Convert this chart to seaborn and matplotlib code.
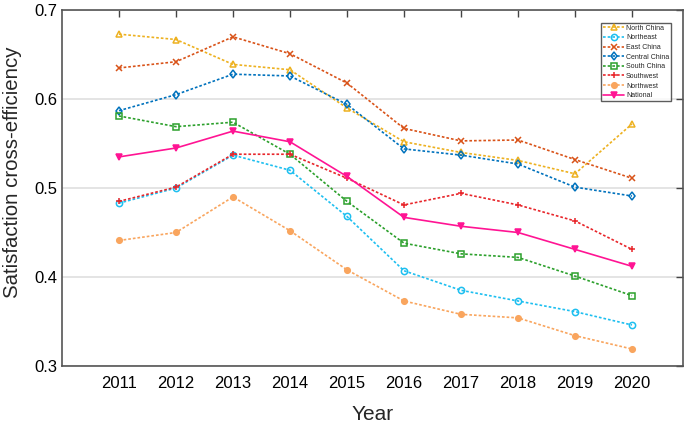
import numpy as np
import pandas as pd
import matplotlib
matplotlib.use('Agg')
import matplotlib.pyplot as plt
import seaborn as sns

years = [2011, 2012, 2013, 2014, 2015, 2016, 2017, 2018, 2019, 2020]

north_china = [0.673, 0.667, 0.639, 0.633, 0.590, 0.552, 0.540, 0.531, 0.516, 0.572]
northeast = [0.483, 0.500, 0.537, 0.520, 0.468, 0.407, 0.385, 0.373, 0.361, 0.346]
east_china = [0.635, 0.642, 0.670, 0.651, 0.618, 0.567, 0.553, 0.554, 0.532, 0.511]
central_china = [0.587, 0.605, 0.628, 0.626, 0.594, 0.544, 0.537, 0.527, 0.501, 0.491]
south_china = [0.581, 0.569, 0.574, 0.538, 0.485, 0.438, 0.426, 0.422, 0.401, 0.379]
southwest = [0.485, 0.501, 0.538, 0.538, 0.511, 0.481, 0.494, 0.481, 0.463, 0.431]
northwest = [0.441, 0.450, 0.490, 0.452, 0.408, 0.373, 0.358, 0.354, 0.334, 0.319]
national = [0.535, 0.545, 0.564, 0.552, 0.513, 0.467, 0.457, 0.450, 0.431, 0.412]

series = ['North China', 'Northeast', 'East China', 'Central China',
          'South China', 'Southwest', 'Northwest', 'National']
values = [north_china, northeast, east_china, central_china,
          south_china, southwest, northwest, national]

# 선 스타일 (색, 마커, 채움, 선종류)
dot = (0, (1.6, 1.2))
styles = {
    'North China':   ('#EDB120', '^', 'none', dot),
    'Northeast':     ('#1EBFF0', 'o', 'none', dot),
    'East China':    ('#D95319', 'x', 'full', dot),
    'Central China': ('#0072BD', 'd', 'none', dot),
    'South China':   ('#2CA02C', 's', 'none', dot),
    'Southwest':     ('#E8262B', '+', 'full', dot),
    'Northwest':     ('#F9A55E', 'o', 'full', dot),
    'National':      ('#FF1493', 'v', 'full', '-'),
}

sns.set_style('white')
plt.rcParams['font.family'] = ['Liberation Sans', 'DejaVu Sans']

fig = plt.figure(figsize=(6.85, 4.23), dpi=100)
ax = fig.add_axes([0.0905, 0.135, 0.907, 0.841])

for name, vals in zip(series, values):
    c, m, fill, ls = styles[name]
    df = pd.DataFrame({'Year': years, 'value': vals})
    ms = 5 if m in ('^', 'v', 'x', '+') else 4.5
    if name == 'Northwest':
        ms = 4
    sns.lineplot(data=df, x='Year', y='value', ax=ax, color=c, linestyle=ls,
                 linewidth=1.2, marker=m, markersize=ms, fillstyle=fill,
                 markeredgecolor=c, markerfacecolor=c if fill == 'full' else 'none',
                 markeredgewidth=1.1, label=name, dashes=False)

ax.set_xlim(2010, 2020.9)
ax.set_ylim(0.3, 0.7)
ax.set_xticks(years)
ax.set_yticks([0.3, 0.4, 0.5, 0.6, 0.7])
ax.set_yticklabels(['0.3', '0.4', '0.5', '0.6', '0.7'])
ax.yaxis.grid(True, color='#dcdcdc', linewidth=1.1)
ax.xaxis.grid(False)
ax.tick_params(direction='in', top=True, right=True, length=5, width=1,
               colors='#444444', labelcolor='black', labelsize=12)
ax.tick_params(axis='x', pad=7)
for s in ax.spines.values():
    s.set_color('#555555')
    s.set_linewidth(1.2)
    s.set_visible(True)

ax.set_xlabel('Year', fontsize=15, labelpad=10)
ax.set_ylabel('Satisfaction cross-efficiency', fontsize=14.7)
ax.yaxis.set_label_coords(-0.064, 0.545)

leg = ax.legend(loc='upper right', bbox_to_anchor=(0.981, 0.965), fontsize=5,
                frameon=True, fancybox=False, handlelength=3.0,
                borderpad=0.3, labelspacing=0.38, handletextpad=0.3,
                borderaxespad=0)
leg.get_frame().set_edgecolor('#333333')
leg.get_frame().set_linewidth(1)

fig.savefig('out.png', dpi=100)
